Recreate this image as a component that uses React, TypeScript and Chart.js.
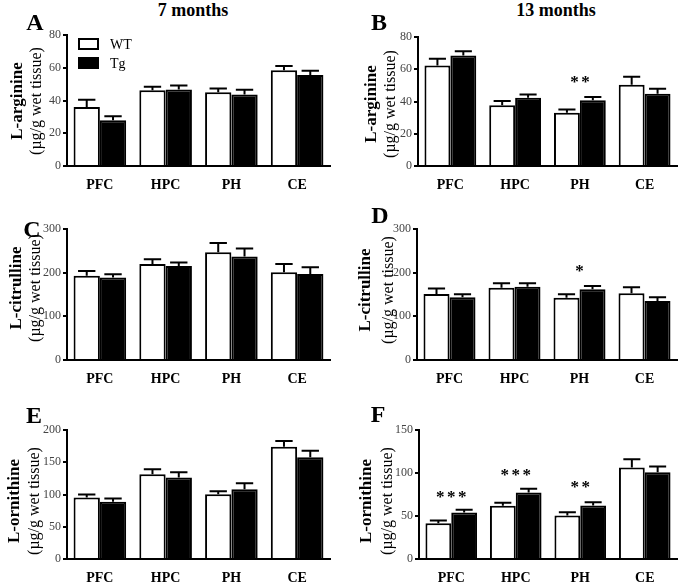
import React, { useEffect, useRef } from 'react';
import { Chart, registerables } from 'chart.js';

Chart.register(...registerables);
Chart.defaults.font.family = "'Liberation Serif', 'Times New Roman', serif";

const categories = ['PFC', 'HPC', 'PH', 'CE'];
const seriesNames = ['WT', 'Tg'];

// L-arginine, 7 months (A)
const argWT7 = [36, 46.3, 45, 58.4];
const argWT7Err = [4.4, 2.1, 2.4, 2.6];
const argTg7 = [28, 46.7, 43.7, 55.5];
const argTg7Err = [2.4, 2.5, 2.8, 2.7];
// L-arginine, 13 months (B)
const argWT13 = [62.4, 37.6, 33.1, 50.4];
const argWT13Err = [4.1, 2.7, 2.0, 5.0];
const argTg13 = [68.6, 42.4, 40.7, 44.8];
const argTg13Err = [2.5, 2.0, 2.1, 3.1];
// L-citrulline, 7 months (C)
const citWT7 = [193, 220, 247, 201];
const citWT7Err = [11, 11, 21, 18.6];
const citTg7 = [189, 215, 237, 197];
const citTg7Err = [7.6, 8, 18.6, 15.3];
// L-citrulline, 13 months (D)
const citWT13 = [151, 165.6, 142.7, 152.7];
const citWT13Err = [13, 10, 7.7, 13.7];
const citTg13 = [143.5, 168, 162, 135];
const citTg13Err = [7, 7.6, 7.5, 8.5];
// L-ornithine, 7 months (E)
const ornWT7 = [95.4, 131.4, 100.5, 174.2];
const ornWT7Err = [4.6, 7.8, 4.5, 8.8];
const ornTg7 = [88.7, 126.3, 108.2, 157.7];
const ornTg7Err = [5.1, 8.2, 9.3, 10.3];
// L-ornithine, 13 months (F)
const ornWT13 = [41.7, 61.8, 50.6, 106.3];
const ornWT13Err = [3.1, 3.5, 3.9, 9.7];
const ornTg13 = [54.1, 77.3, 62.2, 100.9];
const ornTg13Err = [3.1, 4.3, 3.9, 6.6];

// significance marks: [category index, y value, number of stars]
const starsB: [number, number, number][] = [[2, 54.8, 2]];
const starsD: [number, number, number][] = [[2, 212, 1]];
const starsF: [number, number, number][] = [
  [0, 76.5, 3],
  [1, 102.3, 3],
  [2, 88, 2],
];

const yMaxA = 80, yStepA = 20;
const yMaxC = 300, yStepC = 100;
const yMaxE = 200, yStepE = 50;
const yMaxF = 150, yStepF = 50;

const errorBarsPlugin = {
  id: 'errorBars',
  afterDatasetsDraw(chart: any) {
    const { ctx } = chart;
    const y = chart.scales.y;
    chart.data.datasets.forEach((ds: any, i: number) => {
      const meta = chart.getDatasetMeta(i);
      meta.data.forEach((bar: any, j: number) => {
        const v = ds.data[j];
        const e = ds.errors[j];
        const top = y.getPixelForValue(v + e);
        const half = bar.width * 0.33;
        ctx.save();
        ctx.strokeStyle = '#000';
        ctx.lineWidth = 2;
        ctx.beginPath();
        ctx.moveTo(bar.x, bar.y);
        ctx.lineTo(bar.x, top);
        ctx.moveTo(bar.x - half, top);
        ctx.lineTo(bar.x + half, top);
        ctx.stroke();
        ctx.restore();
      });
    });
  },
};

const starsPlugin = {
  id: 'stars',
  afterDatasetsDraw(chart: any, _args: any, opts: any) {
    const items = opts && opts.items;
    if (!items) return;
    const { ctx } = chart;
    const x = chart.scales.x;
    const y = chart.scales.y;
    ctx.save();
    ctx.fillStyle = '#000';
    ctx.font = "bold 17px 'Liberation Serif', serif";
    ctx.textAlign = 'center';
    ctx.textBaseline = 'alphabetic';
    items.forEach(([ci, val, n]: [number, number, number]) => {
      const px = x.getPixelForValue(ci);
      const py = y.getPixelForValue(val);
      const gap = 11;
      for (let k = 0; k < n; k++) {
        const sx = px + (k - (n - 1) / 2) * gap;
        ctx.fillText('*', sx, py + 9);
      }
    });
    ctx.restore();
  },
};

const boxLegendPlugin = {
  id: 'boxLegend',
  afterDraw(chart: any, _args: any, opts: any) {
    if (!opts || !opts.show) return;
    const { ctx, chartArea } = chart;
    ctx.save();
    chart.data.datasets.forEach((ds: any, i: number) => {
      const bx = chartArea.left + 11;
      const by = chartArea.top + 3 + i * 19;
      ctx.fillStyle = ds.backgroundColor;
      ctx.fillRect(bx, by, 21, 12);
      ctx.strokeStyle = '#000';
      ctx.lineWidth = 2;
      ctx.strokeRect(bx + 1, by + 1, 19, 10);
      ctx.fillStyle = '#000';
      ctx.font = "14px 'Liberation Serif', serif";
      ctx.textAlign = 'left';
      ctx.textBaseline = 'middle';
      ctx.fillText(ds.label, bx + 32, by + 7);
    });
    ctx.restore();
  },
};

type PanelCfg = {
  x: number; y: number; w: number; h: number;
  yw: number; xh: number; padTop: number; padRight: number;
  wt: number[]; wtErr: number[]; tg: number[]; tgErr: number[];
  yMax: number; yStep: number;
  stars?: [number, number, number][];
  legend?: boolean;
};

const panels: PanelCfg[] = [
  { x: 0, y: 25, w: 340, h: 170, yw: 67, xh: 29, padTop: 10, padRight: 10,
    wt: argWT7, wtErr: argWT7Err, tg: argTg7, tgErr: argTg7Err, yMax: yMaxA, yStep: yStepA, legend: true },
  { x: 340, y: 25, w: 345, h: 170, yw: 78, xh: 29, padTop: 12, padRight: 8,
    wt: argWT13, wtErr: argWT13Err, tg: argTg13, tgErr: argTg13Err, yMax: yMaxA, yStep: yStepA, stars: starsB },
  { x: 0, y: 219, w: 340, h: 170, yw: 67, xh: 29, padTop: 10, padRight: 10,
    wt: citWT7, wtErr: citWT7Err, tg: citTg7, tgErr: citTg7Err, yMax: yMaxC, yStep: yStepC },
  { x: 340, y: 219, w: 345, h: 170, yw: 77, xh: 29, padTop: 10, padRight: 8,
    wt: citWT13, wtErr: citWT13Err, tg: citTg13, tgErr: citTg13Err, yMax: yMaxC, yStep: yStepC, stars: starsD },
  { x: 0, y: 420, w: 340, h: 167, yw: 67, xh: 28, padTop: 10, padRight: 10,
    wt: ornWT7, wtErr: ornWT7Err, tg: ornTg7, tgErr: ornTg7Err, yMax: yMaxE, yStep: yStepE },
  { x: 340, y: 420, w: 345, h: 167, yw: 79, xh: 28, padTop: 10, padRight: 8,
    wt: ornWT13, wtErr: ornWT13Err, tg: ornTg13, tgErr: ornTg13Err, yMax: yMaxF, yStep: yStepF, stars: starsF },
];

function Panel({ cfg }: { cfg: PanelCfg }) {
  const ref = useRef<HTMLCanvasElement>(null);
  useEffect(() => {
    const chart = new Chart(ref.current as HTMLCanvasElement, {
      type: 'bar',
      data: {
        labels: categories,
        datasets: [
          { label: seriesNames[0], data: cfg.wt, errors: cfg.wtErr, backgroundColor: '#ffffff',
            borderColor: '#000', borderWidth: 2, borderSkipped: 'start' } as any,
          { label: seriesNames[1], data: cfg.tg, errors: cfg.tgErr, backgroundColor: '#000000',
            borderColor: '#000', borderWidth: 2, borderSkipped: 'start' } as any,
        ],
      },
      options: {
        responsive: false,
        animation: false,
        layout: { padding: { top: cfg.padTop, right: cfg.padRight, left: 0, bottom: 0 } },
        datasets: { bar: { categoryPercentage: 0.8, barPercentage: 1.0 } },
        plugins: {
          legend: { display: false },
          tooltip: { enabled: false },
          stars: { items: cfg.stars },
          boxLegend: { show: !!cfg.legend },
        } as any,
        scales: {
          x: {
            grid: { display: false, drawTicks: false },
            border: { display: true, color: '#000', width: 2 },
            ticks: { color: '#000', padding: 11, font: { size: 14, weight: 'bold' } },
            afterFit: (s: any) => { s.height = cfg.xh; },
          },
          y: {
            min: 0,
            max: cfg.yMax,
            grid: { display: true, drawOnChartArea: false, drawTicks: true, tickLength: 4, color: '#000', lineWidth: 2 },
            border: { display: true, color: '#000', width: 2 },
            ticks: { stepSize: cfg.yStep, color: '#444', padding: 2, font: { size: 12 } },
            afterFit: (s: any) => { s.width = cfg.yw; },
          },
        },
      } as any,
      plugins: [errorBarsPlugin, starsPlugin, boxLegendPlugin],
    });
    return () => chart.destroy();
  }, []);
  return (
    <canvas
      ref={ref}
      width={cfg.w}
      height={cfg.h}
      style={{ position: 'absolute', left: cfg.x, top: cfg.y, width: cfg.w, height: cfg.h }}
    />
  );
}

const serif = "'Liberation Serif', 'Times New Roman', serif";

function Centered({ x, y, text, size, bold, rotate }: { x: number; y: number; text: string; size: number; bold?: boolean; rotate?: boolean }) {
  return (
    <div
      style={{
        position: 'absolute', left: x, top: y, whiteSpace: 'nowrap', lineHeight: 1,
        fontFamily: serif, fontSize: size, fontWeight: bold ? 'bold' : 'normal', color: '#000',
        transform: rotate ? 'translate(-50%, -50%) rotate(-90deg)' : 'translate(-50%, -50%)',
        zIndex: 2,
      }}
    >
      {text}
    </div>
  );
}

const yTitles: { x1: number; x2: number; y: number; text: string }[] = [
  { x1: 16, x2: 36, y: 101, text: 'L-arginine' },
  { x1: 370, x2: 390, y: 104, text: 'L-arginine' },
  { x1: 15, x2: 35, y: 288, text: 'L-citrulline' },
  { x1: 364, x2: 388, y: 290, text: 'L-citrulline' },
  { x1: 13, x2: 34, y: 501, text: 'L-ornithine' },
  { x1: 365, x2: 387, y: 501, text: 'L-ornithine' },
];

const letters: { x: number; y: number; t: string }[] = [
  { x: 35, y: 22, t: 'A' },
  { x: 379, y: 22, t: 'B' },
  { x: 32, y: 229, t: 'C' },
  { x: 380, y: 215, t: 'D' },
  { x: 34, y: 415, t: 'E' },
  { x: 378, y: 414, t: 'F' },
];

export default function App() {
  return (
    <div style={{ position: 'absolute', left: 0, top: 0, width: 685, height: 587, background: '#fff', overflow: 'hidden' }}>
      {panels.map((p, i) => <Panel key={i} cfg={p} />)}
      <Centered x={193} y={10} text="7 months" size={18} bold />
      <Centered x={556} y={10} text="13 months" size={18} bold />
      {letters.map((l) => <Centered key={l.t} x={l.x} y={l.y} text={l.t} size={24} bold />)}
      {yTitles.map((t, i) => (
        <React.Fragment key={i}>
          <Centered x={t.x1} y={t.y} text={t.text} size={17} bold rotate />
          <Centered x={t.x2} y={t.y} text="(µg/g wet tissue)" size={16} rotate />
        </React.Fragment>
      ))}
    </div>
  );
}
